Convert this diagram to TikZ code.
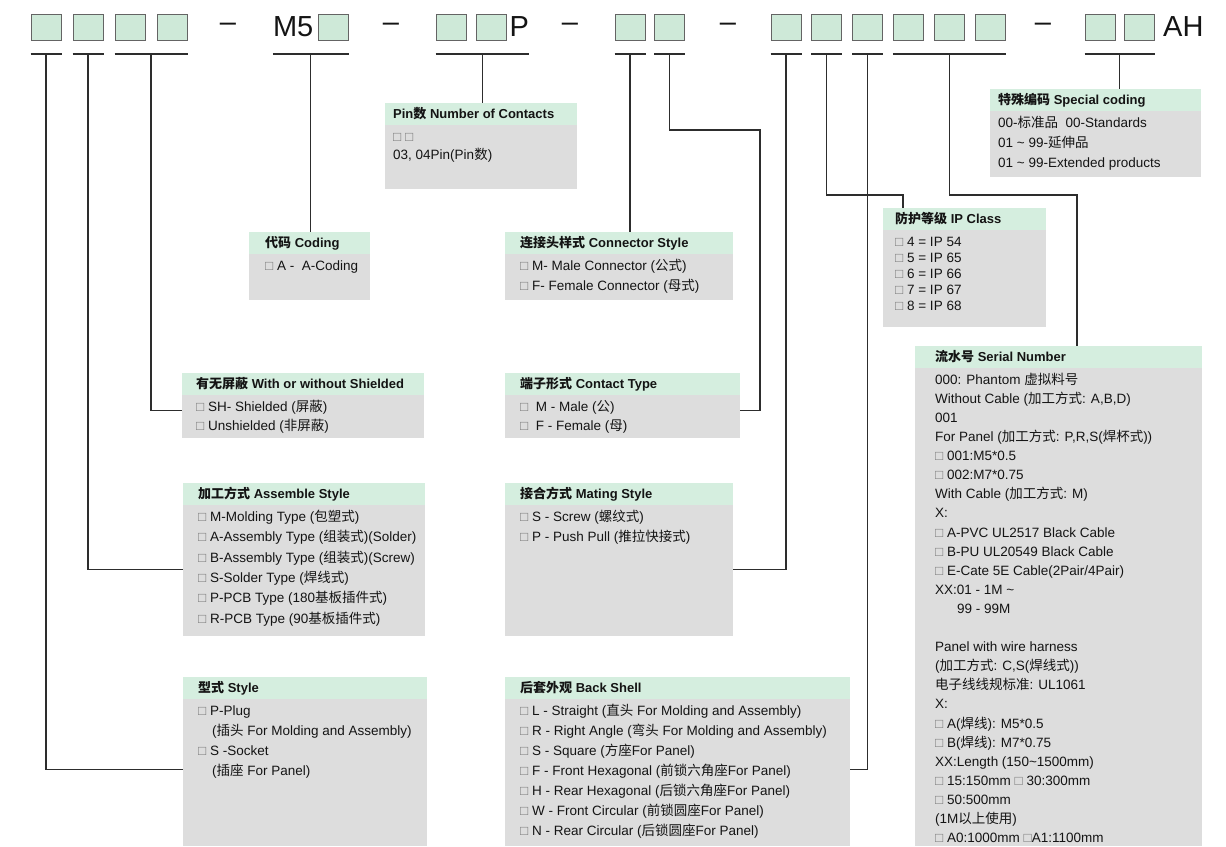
\documentclass[tikz,border=0pt]{standalone}
\usepackage{fontspec}
\setmainfont{Liberation Sans}
\newfontfamily\zhfont{Noto Sans CJK SC}
\usepackage{xcolor}
\usetikzlibrary{positioning}

\definecolor{cellfill}{RGB}{206,233,216}
\definecolor{cellline}{RGB}{100,100,100}
\definecolor{headfill}{RGB}{213,238,223}
\definecolor{panelfill}{RGB}{221,221,221}
\definecolor{linegray}{RGB}{45,45,45}
\definecolor{sqgray}{RGB}{120,120,120}
\definecolor{ink}{RGB}{20,20,20}

\newcommand\zh[1]{{\zhfont#1}}
\newcommand\sq{{\color{sqgray}□}}

\tikzset{
  cell/.style={draw=cellline, line width=1pt, fill=cellfill, minimum width=30pt, minimum height=26pt, inner sep=0pt},
  big/.style={font=\fontsize{29}{32}\selectfont, text=ink, inner sep=0pt},
  uline/.style={draw=linegray, line width=1.8pt},
  wire/.style={draw=linegray, line width=1.3pt},
  panel/.style={fill=panelfill, anchor=north west, inner sep=0pt},
  headtext/.style={anchor=west, inner sep=0pt, text=ink, font=\bfseries\fontsize{13}{15}\selectfont},
  bodytext/.style={anchor=north west, inner sep=0pt, align=left, text=ink, font=\fontsize{13.5}{20}\selectfont},
}

% [body options] name, x, y, width, height, indent, header, body
\newcommand\infobox[9][]{%
  \node[panel, minimum width=#5, minimum height=#6] (#2) at (#3,#4) {};
  \fill[headfill] (#2.north west) rectangle ([yshift=-22pt]#2.north east);
  \node[headtext] (#2-head) at ([xshift=#7, yshift=-11pt]#2.north west) {#8};
  \node[bodytext, #1] (#2-body) at ([xshift=#7, yshift=-24pt]#2.north west) {\rule{0pt}{14pt}#9};
}

\begin{document}
\begin{tikzpicture}[x=1pt, y=-1pt]
  \fill[white] (0,0) rectangle (1226,846);
  \useasboundingbox (0,0) rectangle (1226,846);

  % part number
  \node[cell] (sty) at (46,27) {};
  \node[cell, right=11pt of sty] (asm) {};
  \node[cell, right=11pt of asm] (shA) {};
  \node[cell, right=11pt of shA] (shB) {};
  \node[big] (dash1) at (228,27) {–};
  \node[cell] (cod) at (333,27) {};
  \node[big, left=4pt of cod] (m5) {M5};
  \node[big] (dash2) at (391,27) {–};
  \node[cell] (pin1) at (451,27) {};
  \node[cell, right=9pt of pin1] (pin2) {};
  \node[big, right=3pt of pin2] (ptxt) {P};
  \node[big] (dash3) at (570,27) {–};
  \node[cell] (con) at (630,27) {};
  \node[cell, right=8.5pt of con] (ctc) {};
  \node[big] (dash4) at (728,27) {–};
  \node[cell] (s1) at (786,27) {};
  \foreach \k [evaluate=\k as \n using int(\k+1)] in {1,...,5}
    \node[cell, right=9.8pt of s\k] (s\n) {};
  \node[big] (dash5) at (1043,27) {–};
  \node[cell] (sp1) at (1100,27) {};
  \node[cell, right=8.5pt of sp1] (sp2) {};
  \node[big, right=8pt of sp2] (ah) {AH};

  \draw[uline] (sty.west |- 0,54) -- coordinate (u-sty) (sty.east |- 0,54);
  \draw[uline] (asm.west |- 0,54) -- coordinate (u-asm) (asm.east |- 0,54);
  \draw[uline] (shA.west |- 0,54) -- coordinate (u-shd) (shB.east |- 0,54);
  \draw[uline] (m5.west |- 0,54) -- coordinate (u-cod) (cod.east |- 0,54);
  \draw[uline] (pin1.west |- 0,54) -- coordinate (u-pin) (ptxt.east |- 0,54);
  \draw[uline] (con.west |- 0,54) -- coordinate (u-con) (con.east |- 0,54);
  \draw[uline] (ctc.west |- 0,54) -- coordinate (u-ctc) (ctc.east |- 0,54);
  \draw[uline] (s1.west |- 0,54) -- coordinate (u-mat) (s1.east |- 0,54);
  \draw[uline] (s2.west |- 0,54) -- coordinate (u-ip) (s2.east |- 0,54);
  \draw[uline] (s3.west |- 0,54) -- coordinate (u-bsh) (s3.east |- 0,54);
  \draw[uline] (s4.west |- 0,54) -- coordinate (u-ser) (s6.east |- 0,54);
  \draw[uline] (sp1.west |- 0,54) -- coordinate (u-spc) (sp2.east |- 0,54);

  % option boxes
  \infobox[font=\fontsize{13.5}{18}\selectfont]{pins}{385}{103}{192}{86}{8}
    {Pin\zh{数} Number of Contacts}
    {\sq\ \sq\\03, 04Pin(Pin\zh{数})}
  \infobox{special}{990}{89}{211}{88}{8}
    {\zh{特殊编码} Special coding}
    {00-\zh{标准品}\ \ 00-Standards\\01 \textasciitilde\ 99-\zh{延伸品}\\01 \textasciitilde\ 99-Extended products}
  \infobox{coding}{249}{232}{121}{68}{16}
    {\zh{代码} Coding}
    {\sq\ A -\ \ A-Coding}
  \infobox{constyle}{505}{232}{228}{68}{15}
    {\zh{连接头样式} Connector Style}
    {\sq\ M- Male Connector (\zh{公式})\\\sq\ F- Female Connector (\zh{母式})}
  \infobox[font=\fontsize{13.5}{16}\selectfont]{ipclass}{883}{208}{163}{119}{12}
    {\zh{防护等级} IP Class}
    {\sq\ 4 = IP 54\\\sq\ 5 = IP 65\\\sq\ 6 = IP 66\\\sq\ 7 = IP 67\\\sq\ 8 = IP 68}
  \infobox[font=\fontsize{13.5}{19}\selectfont]{shield}{182}{373}{242}{65}{14}
    {\zh{有无屏蔽} With or without Shielded}
    {\sq\ SH- Shielded (\zh{屏蔽})\\\sq\ Unshielded (\zh{非屏蔽})}
  \infobox[font=\fontsize{13.5}{19}\selectfont]{contact}{505}{373}{235}{65}{15}
    {\zh{端子形式} Contact Type}
    {\sq\ \ M - Male (\zh{公})\\\sq\ \ F - Female (\zh{母})}
  \infobox[font=\fontsize{13.5}{20.4}\selectfont]{assemble}{183}{483}{242}{153}{15}
    {\zh{加工方式} Assemble Style}
    {\sq\ M-Molding Type (\zh{包塑式})\\\sq\ A-Assembly Type (\zh{组装式})(Solder)\\\sq\ B-Assembly Type (\zh{组装式})(Screw)\\\sq\ S-Solder Type (\zh{焊线式})\\\sq\ P-PCB Type (180\zh{基板插件式})\\\sq\ R-PCB Type (90\zh{基板插件式})}
  \infobox{mating}{505}{483}{228}{153}{15}
    {\zh{接合方式} Mating Style}
    {\sq\ S - Screw (\zh{螺纹式})\\\sq\ P - Push Pull (\zh{推拉快接式})}
  \infobox{plugstyle}{183}{677}{244}{169}{15}
    {\zh{型式} Style}
    {\sq\ P-Plug\\\hspace*{14pt}(\zh{插头} For Molding and Assembly)\\\sq\ S -Socket\\\hspace*{14pt}(\zh{插座} For Panel)}
  \infobox{backshell}{505}{677}{345}{169}{15}
    {\zh{后套外观} Back Shell}
    {\sq\ L - Straight (\zh{直头} For Molding and Assembly)\\\sq\ R - Right Angle (\zh{弯头} For Molding and Assembly)\\\sq\ S - Square (\zh{方座}For Panel)\\\sq\ F - Front Hexagonal (\zh{前锁六角座}For Panel)\\\sq\ H - Rear Hexagonal (\zh{后锁六角座}For Panel)\\\sq\ W - Front Circular (\zh{前锁圆座}For Panel)\\\sq\ N - Rear Circular (\zh{后锁圆座}For Panel)}
  \infobox[font=\fontsize{13.5}{19.1}\selectfont]{serial}{915}{346}{287}{500}{20}
    {\zh{流水号} Serial Number}
    {000: Phantom \zh{虚拟料号}\\Without Cable (\zh{加工方式}: A,B,D)\\001\\For Panel (\zh{加工方式}: P,R,S(\zh{焊杯式}))\\\sq\ 001:M5*0.5\\\sq\ 002:M7*0.75\\With Cable (\zh{加工方式}: M)\\X:\\\sq\ A-PVC UL2517 Black Cable\\\sq\ B-PU UL20549 Black Cable\\\sq\ E-Cate 5E Cable(2Pair/4Pair)\\XX:01 - 1M \textasciitilde\\\hspace*{22pt}99 - 99M\\\mbox{}\\Panel with wire harness\\(\zh{加工方式}: C,S(\zh{焊线式}))\\\zh{电子线线规标准}: UL1061\\X:\\\sq\ A(\zh{焊线}): M5*0.5\\\sq\ B(\zh{焊线}): M7*0.75\\XX:Length (150\textasciitilde1500mm)\\\sq\ 15:150mm \sq\ 30:300mm\\\sq\ 50:500mm\\(1M\zh{以上使用})\\\sq\ A0:1000mm \sq A1:1100mm}

  % connectors
  \coordinate (ctcbend) at (760,130);
  \coordinate (ipbend) at (903,195);
  \coordinate (serbend) at (1077,195);
  \draw[wire] (u-sty) |- ([yshift=-8pt]plugstyle.west);
  \draw[wire] (u-asm) |- ([yshift=-10pt]assemble.west);
  \draw[wire] (u-shd) |- ([yshift=-5pt]shield.west);
  \draw[wire] (u-cod) -- (u-cod |- coding.north);
  \draw[wire] (u-pin) -- (u-pin |- pins.north);
  \draw[wire] (u-con) -- (u-con |- constyle.north);
  \draw[wire] (u-ctc) |- (ctcbend) |- ([yshift=-5pt]contact.east);
  \draw[wire] (u-mat) |- ([yshift=-10pt]mating.east);
  \draw[wire] (u-ip) |- (ipbend) -- (ipbend |- ipclass.north);
  \draw[wire] (u-bsh) |- ([yshift=-8pt]backshell.east);
  \draw[wire] (u-ser) |- (serbend) -- (serbend |- serial.north);
  \draw[wire] (u-spc) -- (u-spc |- special.north);
\end{tikzpicture}
\end{document}
